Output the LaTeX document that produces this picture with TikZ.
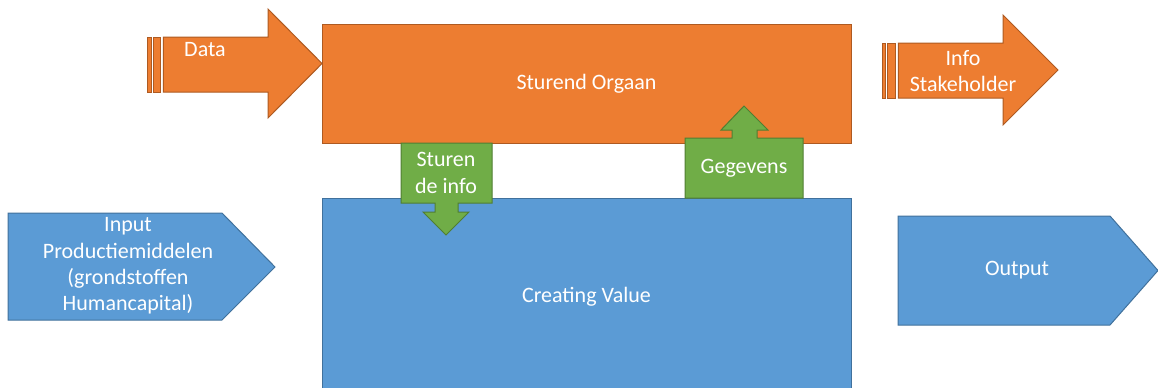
\documentclass[tikz,border=0pt]{standalone}
\usepackage{fontspec}
\setmainfont{Carlito}
\definecolor{oranje}{HTML}{ED7D31}
\definecolor{oranjerand}{HTML}{AE5A21}
\definecolor{blauw}{HTML}{5B9BD5}
\definecolor{blauwrand}{HTML}{41719C}
\definecolor{groen}{HTML}{70AD47}
\definecolor{groenrand}{HTML}{507E32}
\begin{document}
\begin{tikzpicture}[x=0.5pt,y=-0.5pt, line join=miter, font=\fontsize{11}{13.2}\selectfont,
	oranjevorm/.style={fill=oranje,draw=oranjerand,line width=0.5pt},
	blauwvorm/.style={fill=blauw,draw=blauwrand,line width=0.5pt},
	groenvorm/.style={fill=groen,draw=groenrand,line width=0.5pt},
	tekst/.style={text=white,align=center,inner sep=0pt}]
	\useasboundingbox (0,0) rectangle (1158,387);
	% Sturend orgaan en creating value
	\node[oranjevorm,tekst,minimum width=264.5pt,minimum height=59.5pt] (orgaan) at (586.5,83.5) {Sturend Orgaan};
	\node[blauwvorm,tekst,minimum width=264.5pt,minimum height=98.5pt] (value) at (586.5,296.5) {Creating Value};
	% Data pijl
	\draw[oranjevorm] (147,37) rectangle (151.7,92);
	\draw[oranjevorm] (153.3,37) rectangle (160.7,92);
	\draw[oranjevorm] (163.3,37)--(268,37)--(268,9)--(322,63.5)--(268,118)--(268,92)--(163.3,92)--cycle;
	\node[tekst] (data) at (205,50) {Data};
	% Info stakeholder pijl
	\draw[oranjevorm] (882,43) rectangle (885,98);
	\draw[oranjevorm] (887.3,43) rectangle (895,98);
	\draw[oranjevorm] (898.3,43)--(1003,43)--(1003,15)--(1058,70)--(1003,125)--(1003,98)--(898.3,98)--cycle;
	\node[tekst] (info) at (963,71) {Info\\Stakeholder};
	% Input en output
	\draw[blauwvorm] (8,213)--(222,213)--(275,267)--(222,320)--(8,320)--cycle;
	\node[tekst] (input) at (128,266) {Input\\Productiemiddelen\\(grondstoffen\\Humancapital)};
	\draw[blauwvorm] (898,216)--(1110,216)--(1158,270.5)--(1110,325)--(898,325)--cycle;
	\node[tekst] (output) at (1017,270) {Output};
	% Groene pijlen
	\draw[groenvorm] (401,143)--(492,143)--(492,203)--(458,203)--(458,212)--(469,212)--(446,235)--(423,212)--(435,212)--(435,203)--(401,203)--cycle;
	\node[tekst] (sturen) at (446,173) {Sturen\\de info};
	\draw[groenvorm] (685,198)--(685,138)--(732,138)--(732,130)--(721,130)--(744,106)--(768,130)--(757,130)--(757,138)--(803,138)--(803,198)--cycle;
	\node[tekst] (gegevens) at (744,168) {Gegevens};
\end{tikzpicture}
\end{document}
